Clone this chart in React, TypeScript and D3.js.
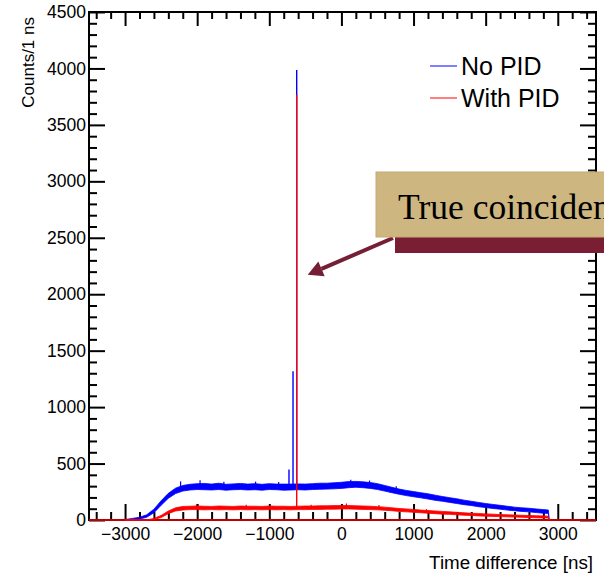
import * as d3 from 'd3';
import { useEffect, useRef } from 'react';

const timeNs = [
  -3000, -2900, -2800, -2700, -2600, -2500, -2400, -2300, -2200, -2100,
  -2000, -1900, -1800, -1700, -1600, -1500, -1400, -1300, -1200, -1100,
  -1000, -900, -800, -700, -600, -500, -400, -300, -200, -100,
  0, 100, 200, 300, 400, 500, 600, 700, 800, 900,
  1000, 1100, 1200, 1300, 1400, 1500, 1600, 1700, 1800, 1900,
  2000, 2100, 2200, 2300, 2400, 2500, 2600, 2700, 2800, 2870, 2880,
];

// No PID: lower / upper edge of the fluctuating band (counts per 1 ns)
const noPidLo = [
  0, 2, 8, 24, 64, 130, 192, 234, 256, 266,
  270, 268, 266, 270, 264, 268, 270, 266, 268, 264,
  270, 268, 264, 266, 268, 266, 270, 272, 274, 276,
  280, 286, 290, 286, 280, 270, 256, 242, 228, 216,
  206, 196, 186, 174, 166, 156, 146, 136, 128, 118,
  110, 102, 96, 88, 82, 76, 72, 66, 60, 58, 0,
];
const noPidHi = [
  4, 14, 24, 46, 96, 170, 236, 282, 306, 316,
  322, 324, 318, 326, 316, 320, 324, 318, 322, 316,
  322, 318, 318, 318, 320, 318, 322, 326, 326, 330,
  334, 340, 342, 338, 332, 322, 306, 290, 274, 262,
  252, 242, 232, 220, 208, 198, 188, 176, 166, 156,
  146, 138, 130, 122, 114, 108, 104, 98, 92, 88, 0,
];

// With PID
const withPidLo = [
  0, 0, 0, 0, 4, 22, 56, 80, 88, 92,
  92, 90, 92, 90, 92, 90, 92, 90, 92, 90,
  92, 90, 92, 90, 92, 92, 94, 94, 96, 96,
  98, 98, 96, 94, 92, 90, 86, 82, 76, 72,
  68, 64, 60, 56, 52, 50, 46, 42, 40, 36,
  34, 32, 30, 28, 26, 24, 22, 20, 18, 18, 0,
];
const withPidHi = [
  0, 0, 0, 0, 14, 40, 80, 108, 120, 122,
  124, 122, 120, 124, 122, 120, 124, 122, 122, 120,
  124, 122, 122, 120, 122, 124, 124, 126, 126, 128,
  128, 128, 126, 124, 122, 118, 114, 108, 102, 98,
  94, 88, 84, 80, 76, 72, 68, 64, 60, 58,
  54, 52, 48, 46, 44, 42, 40, 38, 36, 34, 0,
];

// narrow peaks
const noPidPeakTimes = [-727, -671, -620];
const noPidPeakCounts = [447, 1317, 3987];
const withPidPeakTimes = [-620];
const withPidPeakCounts = [3766];

// single-bin upward fluctuations that stick out of the band
const noPidBumpTimes = [-2230, -1960, -1630, -1190, -870, 130, 390, 760];
const noPidBumpCounts = [342, 352, 338, 340, 336, 356, 350, 300];
const withPidBumpTimes = [-2010, -1320, -420, 70, 520, 1180];
const withPidBumpCounts = [140, 136, 134, 146, 132, 96];

const xTicks = [-3000, -2000, -1000, 0, 1000, 2000, 3000];
const yTicks = [0, 500, 1000, 1500, 2000, 2500, 3000, 3500, 4000, 4500];

const legendItems = ['No PID', 'With PID'];
const legendColors = ['#0000ff', '#ff0000'];

export default function App() {
  const svgRef = useRef<SVGSVGElement>(null);

  useEffect(() => {
    if (svgRef.current) drawChart(svgRef.current);
  }, [svgRef]);

  return (
    <svg
      ref={svgRef}
      width={604}
      height={575}
      style={{ position: 'fixed', left: 0, top: 0, background: '#fff' }}
    />
  );
}

function drawChart(el: SVGSVGElement) {
  const font = '"Liberation Sans", Arial, sans-serif';
  const left = 89, right = 596, top = 12, bottom = 520;

  const x = d3.scaleLinear().domain([-3500, 3530]).range([left, right]);
  const y = d3.scaleLinear().domain([0, 4500]).range([bottom, top]);

  const svg = d3.select(el);
  svg.selectAll('*').remove();

  const fmt = (d: number) => (d < 0 ? '\u2212' + Math.abs(d) : String(d));

  // frame
  svg.append('rect')
    .attr('x', left).attr('y', top)
    .attr('width', right - left).attr('height', bottom - top)
    .attr('fill', 'none').attr('stroke', '#000').attr('stroke-width', 2);

  const styleAxis = (g: d3.Selection<SVGGElement, unknown, null, undefined>) => {
    g.select('.domain').remove();
    g.selectAll('.tick line').attr('stroke', '#000').attr('stroke-width', 2);
    g.selectAll('.tick text').attr('fill', '#000')
      .style('font-family', font).style('font-size', '17.5px');
  };

  const minorX = d3.range(-3400, 3401, 200).filter(v => v % 1000 !== 0);
  const minorY = d3.range(0, 4501, 100).filter(v => v % 500 !== 0);

  // bottom
  svg.append('g').attr('transform', `translate(0,${bottom})`)
    .call(d3.axisBottom(x).tickValues(xTicks).tickSize(-16).tickPadding(8).tickFormat(d => fmt(+d)))
    .call(styleAxis);
  svg.append('g').attr('transform', `translate(0,${bottom})`)
    .call(d3.axisBottom(x).tickValues(minorX).tickSize(-8).tickFormat(() => ''))
    .call(styleAxis);
  // top
  svg.append('g').attr('transform', `translate(0,${top})`)
    .call(d3.axisTop(x).tickValues(xTicks).tickSize(-14).tickFormat(() => ''))
    .call(styleAxis);
  svg.append('g').attr('transform', `translate(0,${top})`)
    .call(d3.axisTop(x).tickValues(minorX).tickSize(-7).tickFormat(() => ''))
    .call(styleAxis);
  // left
  svg.append('g').attr('transform', `translate(${left},0)`)
    .call(d3.axisLeft(y).tickValues(yTicks).tickSize(-16).tickPadding(3).tickFormat(d => String(d)))
    .call(styleAxis);
  svg.append('g').attr('transform', `translate(${left},0)`)
    .call(d3.axisLeft(y).tickValues(minorY).tickSize(-8).tickFormat(() => ''))
    .call(styleAxis);
  // right
  svg.append('g').attr('transform', `translate(${right},0)`)
    .call(d3.axisRight(y).tickValues(yTicks).tickSize(-16).tickFormat(() => ''))
    .call(styleAxis);
  svg.append('g').attr('transform', `translate(${right},0)`)
    .call(d3.axisRight(y).tickValues(minorY).tickSize(-8).tickFormat(() => ''))
    .call(styleAxis);

  // axis titles
  svg.append('text')
    .attr('transform', `translate(34,17) rotate(-90)`)
    .attr('text-anchor', 'end')
    .style('font-family', font).style('font-size', '17px')
    .text('Counts/1 ns');
  svg.append('text')
    .attr('x', 593).attr('y', 569)
    .attr('text-anchor', 'end')
    .style('font-family', font).style('font-size', '18.8px')
    .text('Time difference [ns]');

  // histograms
  const band = (lo: number[], hi: number[]) =>
    d3.area<number>()
      .x((_, i) => x(timeNs[i]))
      .y0((_, i) => y(lo[i]))
      .y1((_, i) => y(hi[i]))(timeNs);

  const drawSeries = (
    lo: number[], hi: number[], color: string,
    peakT: number[], peakC: number[], bumpT: number[], bumpC: number[],
  ) => {
    const g = svg.append('g');
    g.append('path').attr('d', band(lo, hi)!)
      .attr('fill', color).attr('stroke', color).attr('stroke-width', 0.8);
    const baseAt = (t: number) => {
      const i = Math.max(0, d3.bisectLeft(timeNs, t) - 1);
      return (lo[i] + hi[i]) / 2;
    };
    g.selectAll('line.peak').data(peakT).enter().append('line')
      .attr('class', 'peak')
      .attr('x1', d => x(d)).attr('x2', d => x(d))
      .attr('y1', d => y(baseAt(d))).attr('y2', (_, i) => y(peakC[i]))
      .attr('stroke', color).attr('stroke-width', 1.4);
    g.selectAll('line.bump').data(bumpT).enter().append('line')
      .attr('class', 'bump')
      .attr('x1', d => x(d)).attr('x2', d => x(d))
      .attr('y1', d => y(baseAt(d))).attr('y2', (_, i) => y(bumpC[i]))
      .attr('stroke', color).attr('stroke-width', 1.2);
  };

  drawSeries(noPidLo, noPidHi, '#0000ff', noPidPeakTimes, noPidPeakCounts, noPidBumpTimes, noPidBumpCounts);
  // empty bins of the red histogram run along the whole axis
  svg.append('line')
    .attr('x1', x(-3500)).attr('x2', x(3530))
    .attr('y1', y(0)).attr('y2', y(0))
    .attr('stroke', '#ff0000').attr('stroke-width', 1.5);
  drawSeries(withPidLo, withPidHi, '#ff0000', withPidPeakTimes, withPidPeakCounts, withPidBumpTimes, withPidBumpCounts);

  // legend
  legendItems.forEach((name, i) => {
    const ly = 66 + i * 32;
    svg.append('line')
      .attr('x1', 430).attr('x2', 457).attr('y1', ly).attr('y2', ly)
      .attr('stroke', legendColors[i]).attr('stroke-width', 1);
    svg.append('text')
      .attr('x', 461).attr('y', ly + 8.5)
      .style('font-family', font).style('font-size', '25px')
      .text(name);
  });

  // annotation
  const tip: [number, number] = [x(-467), y(2172)];
  const tail: [number, number] = [393, 238];
  const ang = Math.atan2(tip[1] - tail[1], tip[0] - tail[0]);
  const headLen = 15, headW = 8;
  const bx = tip[0] - headLen * Math.cos(ang), by = tip[1] - headLen * Math.sin(ang);
  const nx = -Math.sin(ang), ny = Math.cos(ang);
  const arrowColor = '#741f35';
  svg.append('line')
    .attr('x1', tail[0]).attr('y1', tail[1]).attr('x2', bx).attr('y2', by)
    .attr('stroke', arrowColor).attr('stroke-width', 4);
  svg.append('polygon')
    .attr('points', [tip, [bx + nx * headW, by + ny * headW], [bx - nx * headW, by - ny * headW]]
      .map(p => p.join(',')).join(' '))
    .attr('fill', arrowColor);

  svg.append('rect')
    .attr('x', 395).attr('y', 190).attr('width', 230).attr('height', 63)
    .attr('fill', '#7a1e33');
  svg.append('rect')
    .attr('x', 376).attr('y', 172).attr('width', 240).attr('height', 65)
    .attr('fill', '#cdb680').attr('stroke', '#c4aa72').attr('stroke-width', 1);
  svg.append('text')
    .attr('x', 398).attr('y', 219)
    .style('font-family', '"Liberation Serif", "Times New Roman", serif')
    .style('font-size', '35.5px')
    .text('True coincidences');
}
